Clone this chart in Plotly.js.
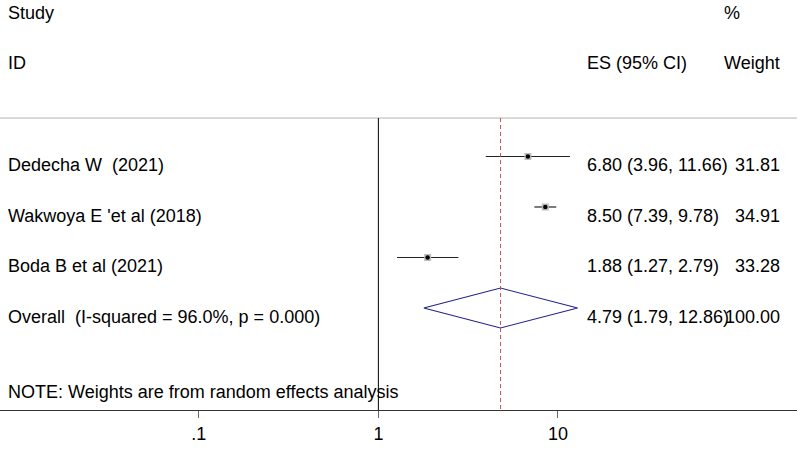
<!DOCTYPE html>
<html>
<head>
<meta charset="utf-8">
<script src="https://cdn.plot.ly/plotly-3.0.1.min.js"></script>
<style>html,body{margin:0;padding:0;background:#fff}#chart{width:797px;height:464px}</style>
</head>
<body>
<div id="chart"></div>
<script>
// ---- data ----
const studies = ['Dedecha W  (2021)', "Wakwoya E 'et al (2018)", 'Boda B et al (2021)'];
const es = [6.80, 8.50, 1.88];
const ciLow = [3.96, 7.39, 1.27];
const ciHigh = [11.66, 9.78, 2.79];
const weights = [31.81, 34.91, 33.28];
const overallLabel = 'Overall  (I-squared = 96.0%, p = 0.000)';
const overallES = 4.79;
const overallLow = 1.79;
const overallHigh = 12.86;
const overallWeight = 100.00;
const tickVals = [0.1, 1, 10];
const tickLabels = ['.1', '1', '10'];
const noteText = 'NOTE: Weights are from random effects analysis';

// ---- layout helpers ----
const rows = studies.map((s, i) => i + 1);
const overallRow = studies.length + 1;
const TXT_OFF = 0.17; // text sits slightly below the marker line
const FONT = {family: 'Liberation Sans, Arial, Helvetica, sans-serif', size: 18, color: '#000'};
const fmt = v => v.toFixed(2);

const traces = [
  { // CI lines
    x: es, y: rows, type: 'scatter', mode: 'markers',
    marker: {size: 1, color: 'rgba(0,0,0,0)'},
    error_x: {type: 'data', symmetric: false,
      array: es.map((v, i) => ciHigh[i] - v),
      arrayminus: es.map((v, i) => v - ciLow[i]),
      width: 0, thickness: 1.2, color: '#222'},
    hoverinfo: 'skip', showlegend: false
  },
  { // weight boxes
    x: es, y: rows, type: 'scatter', mode: 'markers',
    marker: {symbol: 'square', size: 7, color: '#bdbdbd'},
    hoverinfo: 'skip', showlegend: false
  },
  { // point estimates
    x: es, y: rows, type: 'scatter', mode: 'markers',
    marker: {symbol: 'circle', size: 4.5, color: '#000'},
    hoverinfo: 'skip', showlegend: false
  },
  { // diamond
    x: [overallLow, overallES, overallHigh, overallES, overallLow],
    y: [overallRow, overallRow - 0.395, overallRow, overallRow + 0.395, overallRow],
    type: 'scatter', mode: 'lines',
    line: {color: '#22228a', width: 1.1},
    hoverinfo: 'skip', showlegend: false
  }
];

const annotations = [];
const addText = (txt, x, y, anchor) => annotations.push({
  text: txt, x: x, y: y, xref: 'paper', yref: 'y', xanchor: anchor, yanchor: 'middle',
  showarrow: false, font: FONT
});
const LX = 0.0075, ESX = 0.7345, PX = 0.9055, WX = 0.9815;
addText('Study', LX, -1.851, 'left');
addText('ID', LX, -0.861, 'left');
addText('ES (95% CI)', ESX, -0.861, 'left');
addText('%', PX, -1.851, 'left');
addText('Weight', PX, -0.861, 'left');
studies.forEach((s, i) => {
  addText(s, LX, rows[i] + TXT_OFF, 'left');
  addText(fmt(es[i]) + ' (' + fmt(ciLow[i]) + ', ' + fmt(ciHigh[i]) + ')', ESX, rows[i] + TXT_OFF, 'left');
  addText(fmt(weights[i]), WX, rows[i] + TXT_OFF, 'right');
});
addText(overallLabel, LX, overallRow + TXT_OFF, 'left');
addText(fmt(overallES) + ' (' + fmt(overallLow) + ', ' + fmt(overallHigh) + ')', ESX, overallRow + TXT_OFF, 'left');
addText(fmt(overallWeight), WX, overallRow + TXT_OFF, 'right');
addText(noteText, LX, 5.663, 'left');

const Y_TOP = -2.099, Y_BOT = 6.02, Y_RULE = 0.238;
const shapes = [
  {type: 'line', xref: 'paper', yref: 'y', x0: 0, x1: 1, y0: Y_RULE, y1: Y_RULE,
   line: {color: '#b4b4b4', width: 1}},
  {type: 'line', xref: 'x', yref: 'y', x0: 1, x1: 1, y0: Y_RULE, y1: Y_BOT,
   line: {color: '#000', width: 1}},
  {type: 'line', xref: 'x', yref: 'y', x0: overallES, x1: overallES, y0: Y_RULE, y1: Y_BOT,
   line: {color: '#c0505a', width: 1, dash: '4px,3px'}}
];

const layout = {
  width: 797, height: 464,
  margin: {l: 0, r: 0, t: 0, b: 54},
  paper_bgcolor: '#fff', plot_bgcolor: '#fff',
  xaxis: {type: 'log', range: [-2.107, 2.331], tickvals: tickVals, ticktext: tickLabels,
    ticks: 'outside', ticklen: 7, tickcolor: '#666', tickwidth: 1,
    showline: true, linecolor: '#333', linewidth: 1.3, showgrid: false, zeroline: false,
    tickfont: FONT},
  yaxis: {range: [Y_BOT, Y_TOP], visible: false, showgrid: false, zeroline: false},
  annotations: annotations,
  shapes: shapes,
  showlegend: false
};

Plotly.newPlot('chart', traces, layout, {displayModeBar: false, staticPlot: true});
</script>
</body>
</html>
